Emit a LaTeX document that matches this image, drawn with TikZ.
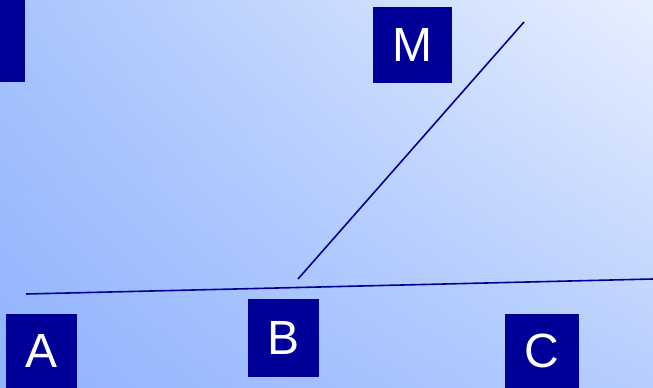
\documentclass[tikz,border=0pt]{standalone}
\usepackage{fontspec}
\setmainfont{Liberation Sans}
\usetikzlibrary{shadings}
\definecolor{boxblue}{RGB}{0,0,153}
\definecolor{bgll}{RGB}{144,178,255}
\definecolor{bgul}{RGB}{168,196,252}
\definecolor{bgur}{RGB}{232,240,255}
\definecolor{bglr}{RGB}{182,205,253}
\tikzset{
  letterbox/.style={fill=boxblue, text=white, inner sep=0pt, font=\fontsize{48}{48}\selectfont},
  seg/.style={draw=boxblue, line width=1.6pt}
}
\begin{document}
\begin{tikzpicture}[x=1pt,y=-1pt]
\shade[lower left=bgll, upper left=bgul, upper right=bgur, lower right=bglr] (0,0) rectangle (653,388);
\useasboundingbox (0,0) rectangle (653,388);
\node[letterbox, minimum width=25pt, minimum height=82pt] (tl) at (12.5,41) {};
\node[letterbox, minimum width=79pt, minimum height=76pt] (M) at (412.5,45) {M};
\node[letterbox, minimum width=71pt, minimum height=74pt] (A) at (41.5,351) {A};
\node[letterbox, minimum width=71pt, minimum height=78pt] (B) at (283.5,338) {B};
\node[letterbox, minimum width=74pt, minimum height=74pt] (C) at (542,351) {C};
\coordinate (h1) at (26,294);
\coordinate (h2) at (653,279);
\coordinate (m1) at (298,279);
\coordinate (m2) at (524,22);
\draw[seg] (h1) -- (h2);
\draw[seg] (m1) -- (m2);
\end{tikzpicture}
\end{document}
